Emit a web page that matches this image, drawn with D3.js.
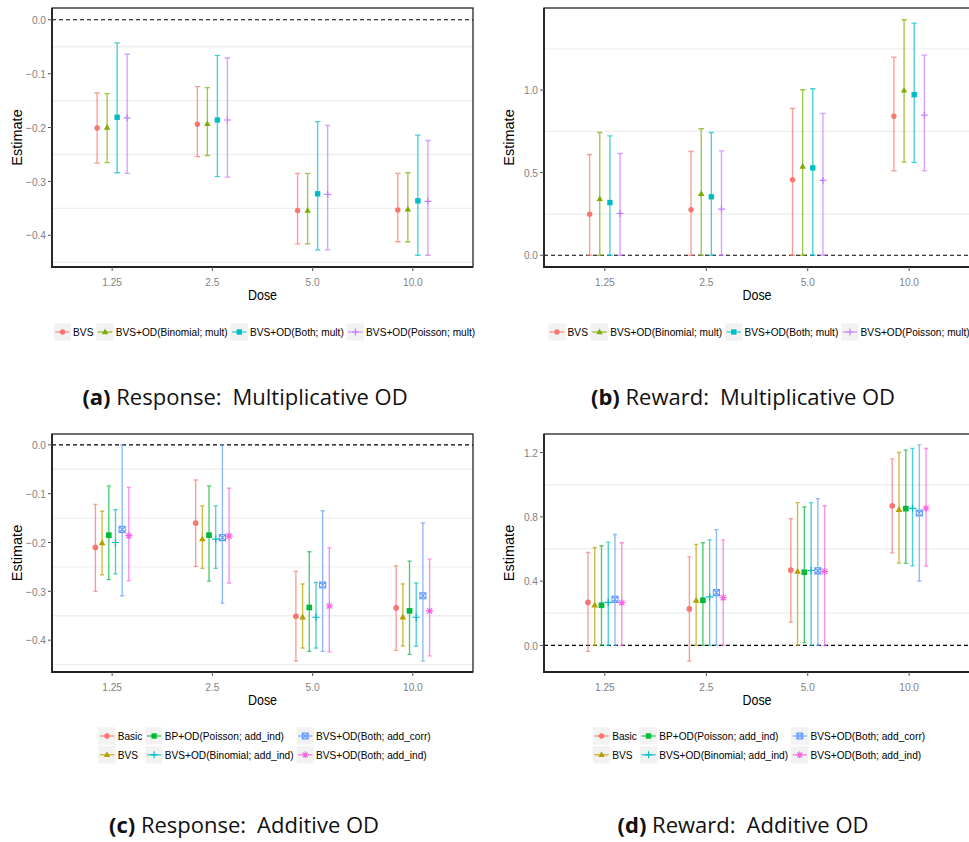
<!DOCTYPE html>
<html><head><meta charset="utf-8">
<script src="https://cdn.jsdelivr.net/npm/d3@7"></script>
<style>body{margin:0;background:#fff} svg{display:block}</style>
</head><body>
<script>
// Dose levels on the x axis
const doses = ["1.25", "2.5", "5.0", "10.0"];

// Model names
const seriesMult = ["BVS", "BVS+OD(Binomial; mult)", "BVS+OD(Both; mult)", "BVS+OD(Poisson; mult)"];
const seriesAdd = ["Basic", "BVS", "BP+OD(Poisson; add_ind)", "BVS+OD(Binomial; add_ind)", "BVS+OD(Both; add_corr)", "BVS+OD(Both; add_ind)"];

// (a) Response: multiplicative OD — estimate, lower, upper per model (rows) and dose (columns)
const estRespMult = [
  [-0.201, -0.194, -0.354, -0.353],
  [-0.200, -0.193, -0.354, -0.352],
  [-0.181, -0.186, -0.323, -0.336],
  [-0.182, -0.186, -0.324, -0.337]
];
const loRespMult = [
  [-0.266, -0.254, -0.416, -0.412],
  [-0.265, -0.252, -0.416, -0.412],
  [-0.284, -0.291, -0.427, -0.437],
  [-0.285, -0.292, -0.427, -0.437]
];
const hiRespMult = [
  [-0.136, -0.124, -0.285, -0.285],
  [-0.137, -0.126, -0.285, -0.284],
  [-0.043, -0.066, -0.189, -0.214],
  [-0.064, -0.071, -0.196, -0.224]
];

// (b) Reward: multiplicative OD
const estRewMult = [
  [0.248, 0.275, 0.457, 0.842],
  [0.341, 0.372, 0.537, 0.998],
  [0.319, 0.354, 0.529, 0.972],
  [0.253, 0.279, 0.453, 0.848]
];
const loRewMult = [
  [0, 0, 0, 0.511],
  [0, 0, 0, 0.564],
  [0, 0, 0, 0.562],
  [0, 0, 0, 0.511]
];
const hiRewMult = [
  [0.610, 0.628, 0.889, 1.200],
  [0.743, 0.766, 1.002, 1.426],
  [0.723, 0.743, 1.008, 1.406],
  [0.616, 0.632, 0.859, 1.212]
];

// (c) Response: additive OD
const estRespAdd = [
  [-0.210, -0.160, -0.351, -0.334],
  [-0.201, -0.193, -0.353, -0.353],
  [-0.185, -0.185, -0.333, -0.340],
  [-0.200, -0.193, -0.353, -0.353],
  [-0.173, -0.190, -0.287, -0.309],
  [-0.186, -0.187, -0.330, -0.340]
];
const loRespAdd = [
  [-0.300, -0.249, -0.443, -0.421],
  [-0.266, -0.253, -0.416, -0.412],
  [-0.276, -0.279, -0.423, -0.429],
  [-0.264, -0.253, -0.416, -0.412],
  [-0.309, -0.324, -0.423, -0.443],
  [-0.278, -0.283, -0.424, -0.432]
];
const hiRespAdd = [
  [-0.122, -0.072, -0.259, -0.248],
  [-0.136, -0.125, -0.285, -0.285],
  [-0.084, -0.084, -0.219, -0.238],
  [-0.133, -0.125, -0.282, -0.283],
  [0.000, 0.000, -0.135, -0.160],
  [-0.087, -0.089, -0.211, -0.234]
];

// (d) Reward: additive OD
const estRewAdd = [
  [0.268, 0.227, 0.468, 0.869],
  [0.250, 0.279, 0.460, 0.844],
  [0.250, 0.281, 0.455, 0.851],
  [0.268, 0.302, 0.466, 0.853],
  [0.287, 0.329, 0.464, 0.824],
  [0.266, 0.297, 0.460, 0.853]
];
const loRewAdd = [
  [-0.037, -0.098, 0.146, 0.576],
  [0, 0, 0, 0.512],
  [0, 0, 0.017, 0.510],
  [0, 0, 0, 0.495],
  [0, 0, 0, 0.401],
  [0, 0, 0, 0.493]
];
const hiRewAdd = [
  [0.578, 0.551, 0.788, 1.161],
  [0.609, 0.628, 0.888, 1.200],
  [0.620, 0.639, 0.861, 1.215],
  [0.643, 0.657, 0.888, 1.225],
  [0.690, 0.720, 0.913, 1.248],
  [0.639, 0.657, 0.869, 1.225]
];

// y-axis tick labels
const ticksRespMult = [-0.4, -0.3, -0.2, -0.1, 0.0];
const ticksRewMult = [0.0, 0.5, 1.0];
const ticksRespAdd = [-0.4, -0.3, -0.2, -0.1, 0.0];
const ticksRewAdd = [0.0, 0.4, 0.8, 1.2];

// Sub-figure captions
const captionTags = ["(a)", "(b)", "(c)", "(d)"];
const captionTexts = ["Response:\u2002Multiplicative OD", "Reward:\u2002Multiplicative OD", "Response:\u2002Additive OD", "Reward:\u2002Additive OD"];

const colorsMult = ["#F8766D", "#7CAE00", "#00BFC4", "#C77CFF"];
const colorsAdd = ["#F8766D", "#B79F00", "#00BA38", "#00BFC4", "#619CFF", "#F564E3"];
const shapesMult = ["circle", "triangle", "square", "plus"];
const shapesAdd = ["circle", "triangle", "square", "plus", "boxx", "asterisk"];

const W = 969, H = 842;
const FONT = "'Liberation Sans', Arial, Helvetica, sans-serif";
const SX = 0.86;           // horizontal squeeze of plot text
const TICK_SIZE = 11.8, TITLE_SIZE = 14.5, LEG_SIZE = 11.8;

const svg = d3.select("body").append("svg")
  .attr("width", W).attr("height", H)
  .style("font-family", FONT);
svg.append("rect").attr("width", W).attr("height", H).attr("fill", "#fff");

// squeezed horizontal text helper
function hText(g, x, y, str, size, anchor, fill) {
  const t = g.append("g").attr("transform", `translate(${x},${y}) scale(${SX},1)`)
    .append("text").attr("text-anchor", anchor || "start")
    .attr("font-size", size).attr("fill", fill || "#000").text(str);
  return t;
}

// draw a point marker of given shape at (cx, cy)
function marker(g, shape, cx, cy, color, scale) {
  const s = scale || 1;
  if (shape === "circle") {
    g.append("circle").attr("cx", cx).attr("cy", cy).attr("r", 2.7 * s).attr("fill", color);
  } else if (shape === "triangle") {
    const h = 5.6 * s, w = 6.4 * s;
    g.append("path").attr("d", `M${cx},${cy - h * 0.62}L${cx + w / 2},${cy + h * 0.38}L${cx - w / 2},${cy + h * 0.38}Z`).attr("fill", color);
  } else if (shape === "square") {
    const a = 5.4 * s;
    g.append("rect").attr("x", cx - a / 2).attr("y", cy - a / 2).attr("width", a).attr("height", a).attr("fill", color);
  } else if (shape === "plus") {
    const r = 3.5 * s;
    g.append("path").attr("d", `M${cx - r},${cy}H${cx + r}M${cx},${cy - r}V${cy + r}`)
      .attr("stroke", color).attr("stroke-width", 1.2).attr("fill", "none");
  } else if (shape === "boxx") {
    const r = 2.9 * s;
    g.append("path").attr("d", `M${cx - r},${cy - r}H${cx + r}V${cy + r}H${cx - r}ZM${cx - r},${cy - r}L${cx + r},${cy + r}M${cx + r},${cy - r}L${cx - r},${cy + r}`)
      .attr("stroke", color).attr("stroke-width", 1.1).attr("fill", "none");
  } else if (shape === "asterisk") {
    const r = 3.5 * s, q = r * 0.72;
    g.append("path").attr("d", `M${cx - r},${cy}H${cx + r}M${cx},${cy - r}V${cy + r}M${cx - q},${cy - q}L${cx + q},${cy + q}M${cx + q},${cy - q}L${cx - q},${cy + q}`)
      .attr("stroke", color).attr("stroke-width", 1.1).attr("fill", "none");
  }
}

function panel(cfg) {
  const { left, top, right, bottom, names, colors, shapes, est, lo, hi, yTicks, legendRows, legendY } = cfg;
  const g = svg.append("g");
  const rows = [];
  names.forEach((n, i) => doses.forEach((d, j) => rows.push({ s: i, dose: d, est: est[i][j], lo: lo[i][j], hi: hi[i][j] })));

  const ymin = Math.min(0, d3.min(rows, r => r.lo));
  const ymax = Math.max(0, d3.max(rows, r => r.hi));
  const pad = (ymax - ymin) * 0.05;
  const y = d3.scaleLinear().domain([ymin - pad, ymax + pad]).range([bottom, top]);
  const x = d3.scalePoint().domain(doses).range([left, right]).padding(0.6);
  const k = names.length, dw = 0.4 * x.step() / k;
  const xo = r => x(r.dose) + (r.s - (k - 1) / 2) * dw;

  // minor grid lines halfway between the major ticks
  const step = yTicks[1] - yTicks[0];
  const minor = [yTicks[0] - step / 2, ...yTicks.map(t => t + step / 2)]
    .filter(v => v > y.domain()[0] && v < y.domain()[1]);
  g.append("g").selectAll("line").data(minor).join("line")
    .attr("x1", left).attr("x2", right).attr("y1", d => y(d)).attr("y2", d => y(d))
    .attr("stroke", "#EFEFEF").attr("stroke-width", 1.4);

  // reference line at zero
  g.append("line").attr("x1", left).attr("x2", right).attr("y1", y(0)).attr("y2", y(0))
    .attr("stroke", "#000").attr("stroke-width", 1.2).attr("stroke-dasharray", "4,3");

  // error bars
  const cap = k > 4 ? 2 : 2.7;
  const eb = g.append("g").attr("stroke-width", 1.35).attr("fill", "none").attr("stroke-opacity", 0.72);
  eb.selectAll("path").data(rows).join("path")
    .attr("stroke", r => colors[r.s])
    .attr("d", r => {
      const cx = xo(r), y0 = y(r.lo), y1 = y(r.hi);
      return `M${cx},${y0}V${y1}M${cx - cap},${y1}H${cx + cap}M${cx - cap},${y0}H${cx + cap}`;
    });

  // point estimates
  const pg = g.append("g");
  rows.forEach(r => marker(pg, shapes[r.s], xo(r), y(r.est), colors[r.s], k > 4 ? 1.05 : 1));

  // panel border
  g.append("rect").attr("x", left).attr("y", top).attr("width", right - left).attr("height", bottom - top)
    .attr("fill", "none").attr("stroke", "#111").attr("stroke-width", 1.2);
  g.append("path").attr("d", `M${left},${top}V${bottom}H${right}`)
    .attr("fill", "none").attr("stroke", "#222").attr("stroke-width", 1.8);

  // y axis ticks and labels
  const fmt = d3.format(".1f");
  yTicks.forEach(t => {
    g.append("line").attr("x1", left - 4).attr("x2", left).attr("y1", y(t)).attr("y2", y(t))
      .attr("stroke", "#555").attr("stroke-width", 1);
    hText(g, left - 6, y(t) + 4.2, fmt(t).replace("-", "\u2212"), TICK_SIZE, "end", "#7F7F7F");
  });
  // x axis ticks and labels
  doses.forEach(d => {
    g.append("line").attr("x1", x(d)).attr("x2", x(d)).attr("y1", bottom).attr("y2", bottom + 4)
      .attr("stroke", "#555").attr("stroke-width", 1);
    hText(g, x(d), bottom + 18.5, d, TICK_SIZE, "middle", "#7F7F7F");
  });
  // axis titles
  hText(g, (left + right) / 2, bottom + 33, "Dose", TITLE_SIZE, "middle", "#000");
  g.append("text").attr("transform", `translate(${left - 30.5},${(top + bottom) / 2}) rotate(-90)`)
    .attr("text-anchor", "middle").attr("font-size", TITLE_SIZE).text("Estimate");

  // legend: column-major grid of keys
  const KEY = 17.3;
  const lg = svg.append("g");
  const nCols = Math.ceil(names.length / legendRows);
  const widths = names.map(n => {
    const t = lg.append("text").attr("font-size", LEG_SIZE).text(n);
    const w = t.node().getComputedTextLength() * SX;
    t.remove();
    return w;
  });
  const colW = d3.range(nCols).map(c => {
    const idx = d3.range(legendRows).map(r => c * legendRows + r).filter(i => i < names.length);
    return KEY + 2 + d3.max(idx, i => widths[i]) + 3;
  });
  const total = d3.sum(colW) - 3;
  let cx0 = (left + right) / 2 - total / 2 + 2;
  for (let c = 0; c < nCols; c++) {
    for (let r = 0; r < legendRows; r++) {
      const i = c * legendRows + r;
      if (i >= names.length) continue;
      const ky = legendY + r * (KEY + 1.5) - KEY / 2;
      lg.append("rect").attr("x", cx0).attr("y", ky).attr("width", KEY).attr("height", KEY).attr("fill", "#F2F2F2");
      lg.append("line").attr("x1", cx0 + 1.5).attr("x2", cx0 + KEY - 1.5).attr("y1", ky + KEY / 2).attr("y2", ky + KEY / 2)
        .attr("stroke", colors[i]).attr("stroke-width", 1.3).attr("stroke-opacity", 0.8);
      marker(lg, shapes[i], cx0 + KEY / 2, ky + KEY / 2, colors[i], 1);
      hText(lg, cx0 + KEY + 2, ky + KEY / 2 + 4.1, names[i], LEG_SIZE, "start", "#000");
    }
    cx0 += colW[c];
  }

  // caption
  const capText = svg.append("text").attr("x", cfg.capX).attr("y", cfg.capY)
    .attr("text-anchor", "middle").attr("font-size", 22).attr("fill", "#111")
    .style("font-family", "'Open Sans', 'Liberation Sans', sans-serif");
  capText.append("tspan").attr("font-weight", "bold").text(captionTags[cfg.idx]);
  capText.append("tspan").text(" " + captionTexts[cfg.idx]);
}

panel({ idx: 0, left: 52, top: 8, right: 473, bottom: 267, names: seriesMult, colors: colorsMult, shapes: shapesMult,
  est: estRespMult, lo: loRespMult, hi: hiRespMult, yTicks: ticksRespMult, legendRows: 1, legendY: 332, capX: 245, capY: 405 });
panel({ idx: 1, left: 544, top: 8, right: 970, bottom: 267, names: seriesMult, colors: colorsMult, shapes: shapesMult,
  est: estRewMult, lo: loRewMult, hi: hiRewMult, yTicks: ticksRewMult, legendRows: 1, legendY: 332, capX: 743, capY: 405 });
panel({ idx: 2, left: 52, top: 434, right: 473, bottom: 672, names: seriesAdd, colors: colorsAdd, shapes: shapesAdd,
  est: estRespAdd, lo: loRespAdd, hi: hiRespAdd, yTicks: ticksRespAdd, legendRows: 2, legendY: 736, capX: 244, capY: 833 });
panel({ idx: 3, left: 544, top: 434, right: 970, bottom: 672, names: seriesAdd, colors: colorsAdd, shapes: shapesAdd,
  est: estRewAdd, lo: loRewAdd, hi: hiRewAdd, yTicks: ticksRewAdd, legendRows: 2, legendY: 736, capX: 743, capY: 833 });
</script>
</body></html>
